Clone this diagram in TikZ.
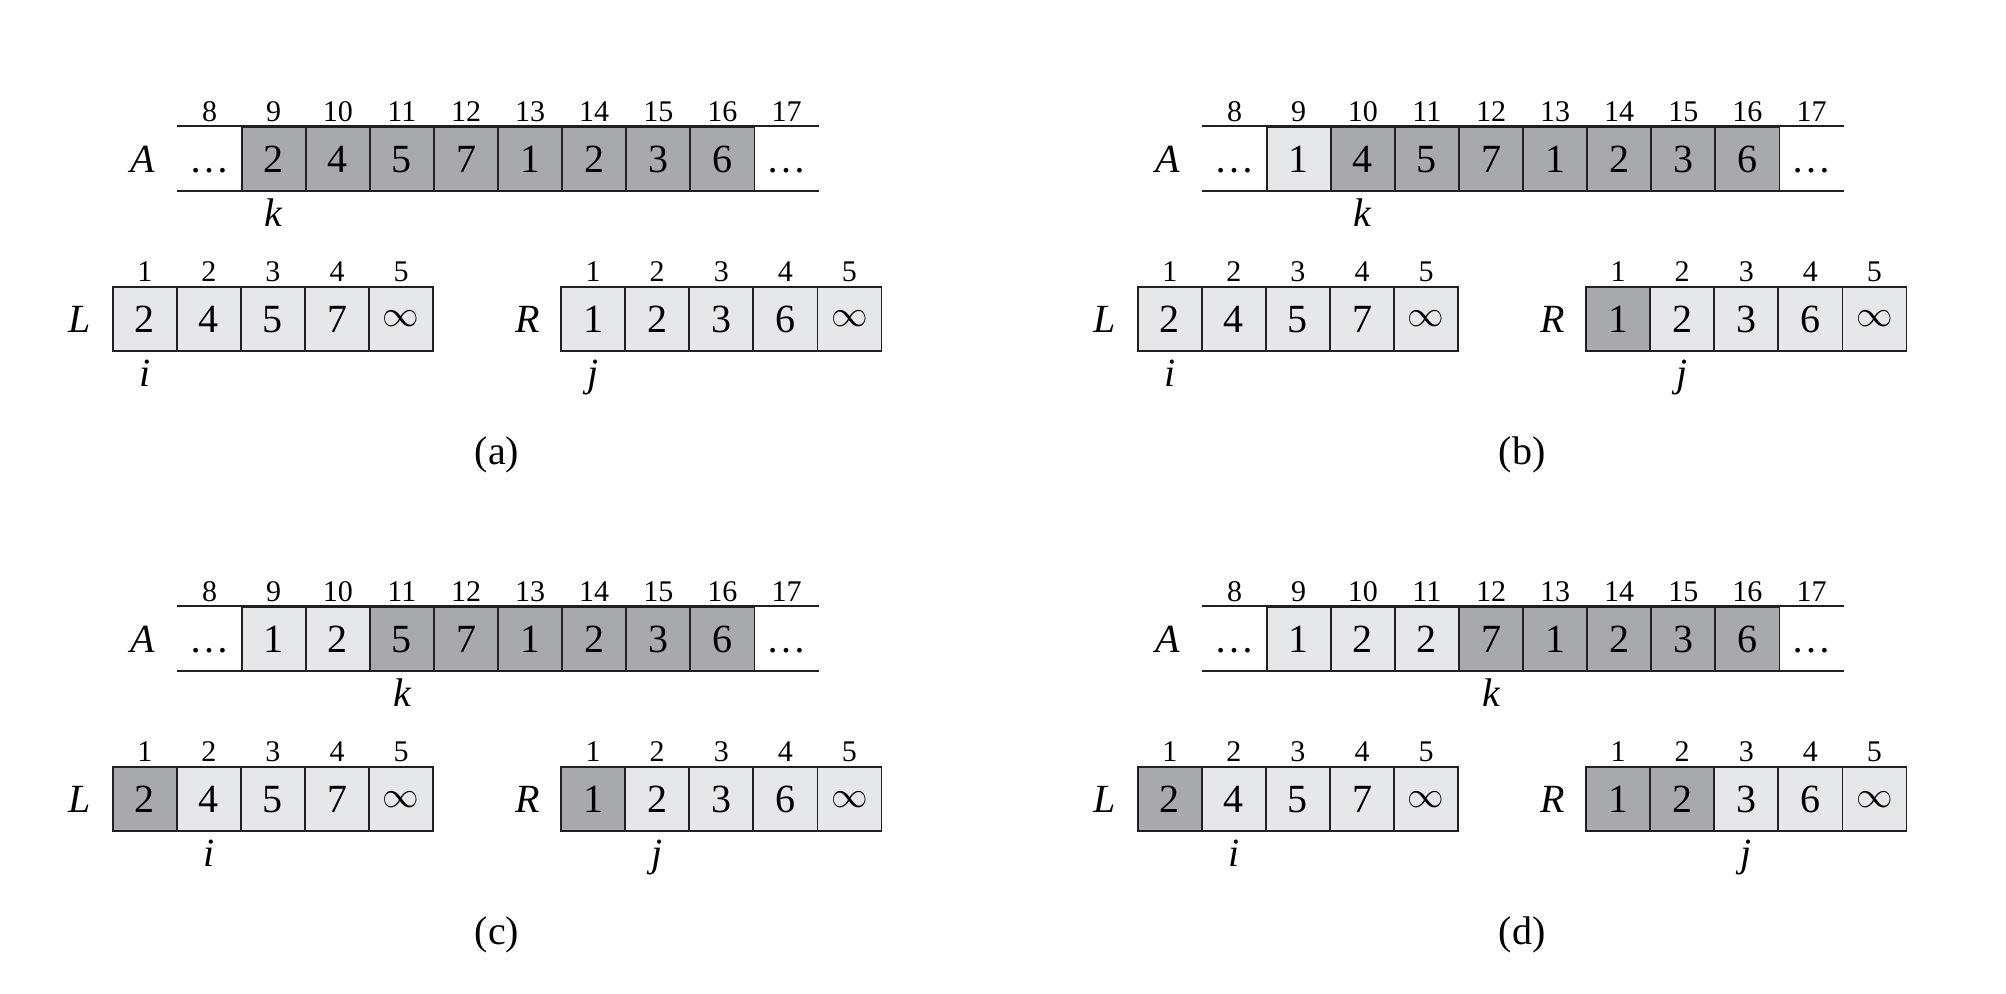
\documentclass[tikz,border=0pt]{standalone}
\usepackage{fontspec}
\usepackage{graphicx}
\setmainfont{Liberation Serif}
\definecolor{dkgray}{HTML}{A7A9AC}
\definecolor{ltgray}{HTML}{E6E7E8}
\definecolor{ink}{HTML}{231F20}
\newcommand\infsym{\raisebox{2.9pt}{\scalebox{0.88}{$\infty$}}}
\tikzset{
  cellbox/.style={draw=ink, line width=0.9pt, minimum width=32.05pt, minimum height=32pt,
    inner sep=0pt, text height=13.5pt, text depth=0pt, font=\fontsize{20}{20}\selectfont},
  dotbox/.style={minimum width=32.05pt, minimum height=32pt, inner sep=0pt,
    text height=13.5pt, text depth=0pt, font=\fontsize{20}{20}\selectfont},
  idx/.style={anchor=base, inner sep=0pt, font=\fontsize{15}{15}\selectfont},
  ptr/.style={anchor=base, inner sep=0pt, font=\fontsize{20}{20}\selectfont\itshape},
  arrname/.style={inner sep=0pt, text height=13.5pt, text depth=0pt, font=\fontsize{20}{20}\selectfont\itshape},
  caption/.style={anchor=base, inner sep=0pt, font=\fontsize{20}{20}\selectfont},
  rule/.style={draw=ink, line width=0.9pt}
}
% #1 id, #2 shift, #3 A cells, #4 k, #5 L cells, #6 i, #7 R cells, #8 j, #9 caption
\newcommand\panel[9]{%
  \begin{scope}[shift={#2}]
    \node[dotbox] (#1-A8) at (209.6,158.7) {\ldots};
    \foreach \v/\f [count=\c from 9] in {#3}
      \node[cellbox, fill=\f] (#1-A\c) at ({209.6+64.1*(\c-8)},158.7) {\v};
    \node[dotbox] (#1-A17) at ({209.6+64.1*9},158.7) {\ldots};
    \draw[rule] (#1-A8.north west) -- (#1-A17.north east);
    \draw[rule] (#1-A8.south west) -- (#1-A17.south east);
    \foreach \c in {8,...,17}
      \node[idx] (#1-Ai\c) at ({209.6+64.1*(\c-8)},121.5) {\c};
    \node[arrname] (#1-Aname) at (142.7,158.7) {A};
    \node[ptr] (#1-k) at ({209.6+64.1*(#4-8)},226.7) {k};
    % L
    \foreach \v/\f [count=\c from 1] in {#5}
      \node[cellbox, fill=\f] (#1-L\c) at ({144.75+64.1*(\c-1)},319.3) {\v};
    \foreach \c in {1,...,5}
      \node[idx] (#1-Li\c) at ({144.75+64.1*(\c-1)},281.5) {\c};
    \node[arrname] (#1-Lname) at (80,319.3) {L};
    \node[ptr] (#1-i) at ({144.75+64.1*(#6-1)},386.8) {i};
    % R
    \foreach \v/\f [count=\c from 1] in {#7}
      \node[cellbox, fill=\f] (#1-R\c) at ({593.05+64.1*(\c-1)},319.3) {\v};
    \foreach \c in {1,...,5}
      \node[idx] (#1-Ri\c) at ({593.05+64.1*(\c-1)},281.5) {\c};
    \node[arrname] (#1-Rname) at (527.5,319.3) {R};
    \node[ptr] (#1-j) at ({593.05+64.1*(#8-1)},386.8) {j};
    \node[caption] (#1-cap) at (497,464) {#9};
  \end{scope}%
}
\begin{document}
\begin{tikzpicture}[x=0.5pt,y=-0.5pt]
  \useasboundingbox[fill=white] (0,0) rectangle (2006,994);
  \panel{a}{(0,0)}
    {2/dkgray,4/dkgray,5/dkgray,7/dkgray,1/dkgray,2/dkgray,3/dkgray,6/dkgray}{9}
    {2/ltgray,4/ltgray,5/ltgray,7/ltgray,\infsym/ltgray}{1}
    {1/ltgray,2/ltgray,3/ltgray,6/ltgray,\infsym/ltgray}{1}{(a)}
  \panel{b}{(1025,0)}
    {1/ltgray,4/dkgray,5/dkgray,7/dkgray,1/dkgray,2/dkgray,3/dkgray,6/dkgray}{10}
    {2/ltgray,4/ltgray,5/ltgray,7/ltgray,\infsym/ltgray}{1}
    {1/dkgray,2/ltgray,3/ltgray,6/ltgray,\infsym/ltgray}{2}{(b)}
  \panel{c}{(0,480)}
    {1/ltgray,2/ltgray,5/dkgray,7/dkgray,1/dkgray,2/dkgray,3/dkgray,6/dkgray}{11}
    {2/dkgray,4/ltgray,5/ltgray,7/ltgray,\infsym/ltgray}{2}
    {1/dkgray,2/ltgray,3/ltgray,6/ltgray,\infsym/ltgray}{2}{(c)}
  \panel{d}{(1025,480)}
    {1/ltgray,2/ltgray,2/ltgray,7/dkgray,1/dkgray,2/dkgray,3/dkgray,6/dkgray}{12}
    {2/dkgray,4/ltgray,5/ltgray,7/ltgray,\infsym/ltgray}{2}
    {1/dkgray,2/dkgray,3/ltgray,6/ltgray,\infsym/ltgray}{3}{(d)}
\end{tikzpicture}
\end{document}
